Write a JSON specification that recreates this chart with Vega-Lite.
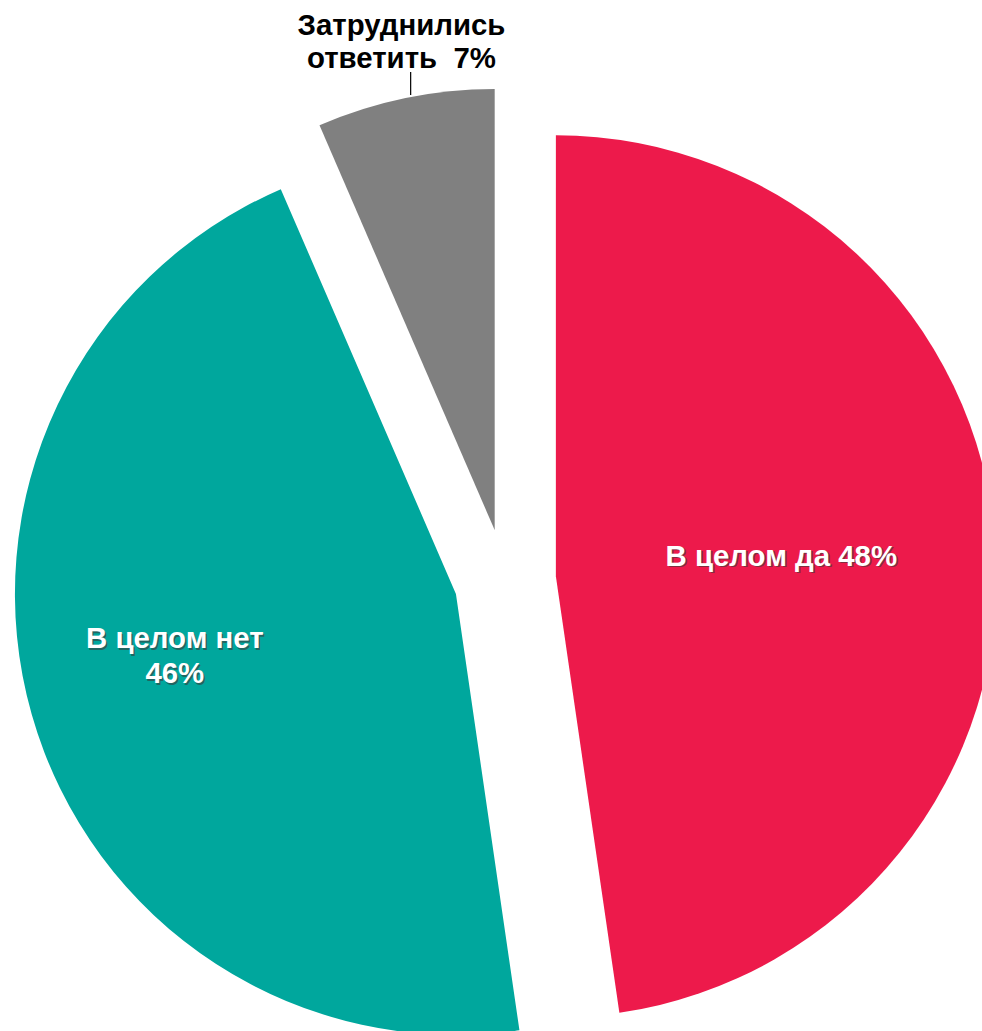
{
  "$schema": "https://vega.github.io/schema/vega-lite/v6.json",
  "width": 982,
  "height": 1031,
  "autosize": {"type": "none"},
  "padding": 0,
  "background": "white",
  "config": {"view": {"stroke": null}},
  "data": {
    "values": [
      {"category": "В целом да", "value": 47.7, "label": "В целом да 48%"},
      {"category": "В целом нет", "value": 45.8, "label": "В целом нет\n46%"},
      {"category": "Затруднились ответить", "value": 6.5, "label": "Затруднились\nответить\u00a0 7%"}
    ]
  },
  "transform": [
    {"stack": "value", "groupby": [], "sort": [{"field": "category", "order": "ascending"}], "offset": "normalize", "as": ["v0", "v1"]},
    {"calculate": "(datum.v0 + datum.v1) / 2", "as": "mid"},
    {"calculate": "sin(2 * PI * datum.mid)", "as": "ex"},
    {"calculate": "cos(2 * PI * datum.mid)", "as": "ey"}
  ],
  "encoding": {
    "x": {"field": "ex", "type": "quantitative", "scale": {"domain": [-9.902, 9.353], "nice": false, "zero": false}, "axis": null},
    "y": {"field": "ey", "type": "quantitative", "scale": {"domain": [-8.843, 11.373], "nice": false, "zero": false}, "axis": null}
  },
  "layer": [
    {
      "mark": {"type": "arc", "radius": 441},
      "encoding": {
        "theta": {"field": "v0", "type": "quantitative", "scale": {"domain": [0, 1]}, "stack": null},
        "theta2": {"field": "v1"},
        "color": {
          "field": "category",
          "type": "nominal",
          "scale": {"domain": ["В целом да", "В целом нет", "Затруднились ответить"], "range": ["#ED1A4B", "#00A79D", "#808080"]},
          "legend": null
        }
      }
    },
    {
      "transform": [{"filter": "datum.category == 'Затруднились ответить'"}],
      "mark": {"type": "rule", "color": "#000000", "strokeWidth": 1.2, "xOffset": -84, "x2Offset": -84, "yOffset": -435, "y2Offset": -458},
      "encoding": {"x2": {"field": "ex"}, "y2": {"field": "ey"}}
    },
    {
      "transform": [{"filter": "datum.category == 'В целом да'"}],
      "mark": {"type": "text", "radius": 228, "font": "Liberation Sans", "fontWeight": "bold", "fontSize": 29.4, "align": "center", "baseline": "middle", "fill": "#3a3a3a", "opacity": 0.6, "dx": -0.5, "dy": -1.5},
      "encoding": {"theta": {"field": "mid", "type": "quantitative", "scale": {"domain": [0, 1]}}, "text": {"field": "label"}}
    },
    {
      "transform": [{"filter": "datum.category == 'В целом да'"}],
      "mark": {"type": "text", "radius": 228, "font": "Liberation Sans", "fontWeight": "bold", "fontSize": 29.4, "align": "center", "baseline": "middle", "fill": "#FFFFFF", "dx": -2, "dy": -3},
      "encoding": {"theta": {"field": "mid", "type": "quantitative", "scale": {"domain": [0, 1]}}, "text": {"field": "label"}}
    },
    {
      "transform": [{"filter": "datum.category == 'В целом нет'"}],
      "mark": {"type": "text", "radius": 287, "font": "Liberation Sans", "fontWeight": "bold", "fontSize": 29.4, "align": "center", "baseline": "middle", "lineBreak": "\n", "lineHeight": 35, "fill": "#3a3a3a", "opacity": 0.6, "dx": -3.5, "dy": -31.5},
      "encoding": {"theta": {"field": "mid", "type": "quantitative", "scale": {"domain": [0, 1]}}, "text": {"field": "label"}}
    },
    {
      "transform": [{"filter": "datum.category == 'В целом нет'"}],
      "mark": {"type": "text", "radius": 287, "font": "Liberation Sans", "fontWeight": "bold", "fontSize": 29.4, "align": "center", "baseline": "middle", "lineBreak": "\n", "lineHeight": 35, "fill": "#FFFFFF", "dx": -5, "dy": -33},
      "encoding": {"theta": {"field": "mid", "type": "quantitative", "scale": {"domain": [0, 1]}}, "text": {"field": "label"}}
    },
    {
      "transform": [{"filter": "datum.category == 'Затруднились ответить'"}],
      "mark": {"type": "text", "radius": 499, "font": "Liberation Sans", "fontWeight": "bold", "fontSize": 29.4, "align": "center", "baseline": "middle", "lineBreak": "\n", "lineHeight": 33, "fill": "#000000", "dx": 8, "dy": -15},
      "encoding": {"theta": {"field": "mid", "type": "quantitative", "scale": {"domain": [0, 1]}}, "text": {"field": "label"}}
    }
  ]
}
